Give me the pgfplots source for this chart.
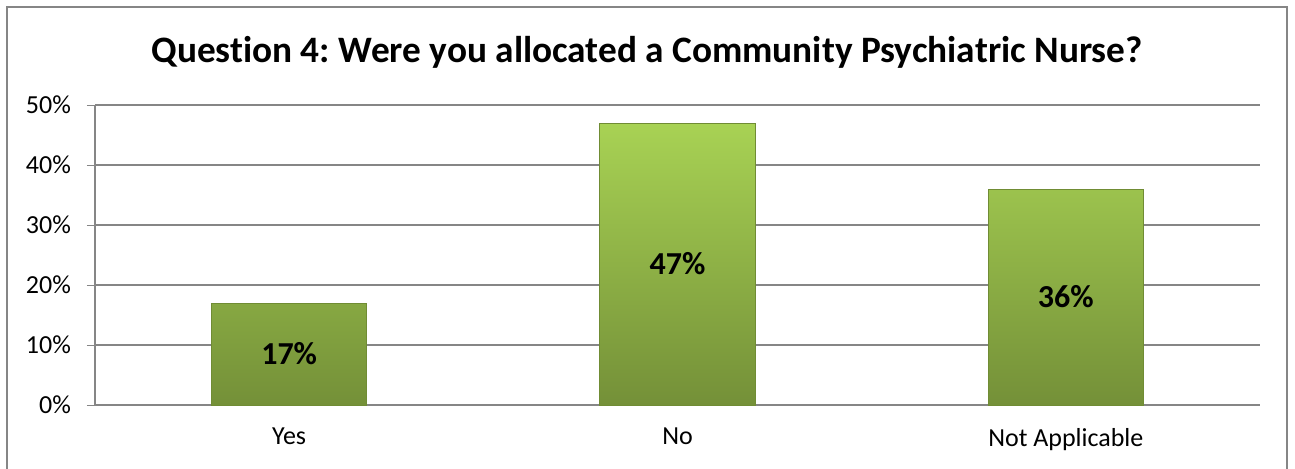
\documentclass[border=0pt]{standalone}
\usepackage{fontspec}
\setmainfont{Carlito}[Ligatures=NoCommon]
\usepackage{pgfplots}
\pgfplotsset{compat=1.18}
\definecolor{gridgray}{RGB}{134,134,134}
\definecolor{bordergray}{RGB}{134,134,134}
\definecolor{bartop}{RGB}{168,210,84}
\definecolor{barbot}{RGB}{116,144,56}
\definecolor{baredge}{RGB}{112,140,52}
\frenchspacing
\begin{document}
\begin{tikzpicture}
\path[use as bounding box] (0,0) rectangle (647.5pt,234pt);
\draw[bordergray, line width=1.2pt] (3.5pt,-3pt) -- (3.5pt,230.5pt) -- (643.5pt,230.5pt) -- (643.5pt,-3pt);
\node[font=\bfseries\fontsize{18.65}{21}\selectfont, anchor=base, inner sep=0pt] at (323.5pt,202.8pt) {Question 4: Were you allocated a Community Psychiatric Nurse?};
\begin{axis}[
  at={(47.5pt,31.5pt)}, anchor=south west,
  scale only axis, width=582.5pt, height=150pt,
  xmin=-0.5, xmax=2.5, ymin=0, ymax=50,
  ybar, bar width=0.4,
  xtick={0,1,2}, xticklabels={Yes,No,Not Applicable},
  x tick style={draw=none},
  extra x ticks={-0.5,0.5,1.5,2.5}, extra x tick labels={},
  extra x tick style={tick style={draw=gridgray}, major tick length=4pt, tick align=outside, grid=none},
  ytick={0,10,20,30,40,50},
  yticklabel={\pgfmathprintnumber{\tick}\%},
  /pgf/number format/assume math mode=true,
  ymajorgrids, major grid style={gridgray, line width=0.6pt},
  axis x line*=bottom, axis y line*=left,
  axis line style={gridgray, line width=0.6pt},
  y tick style={draw=gridgray}, tick align=outside, major tick length=4pt,
  tick label style={font=\fontsize{13}{15}\selectfont},
  xticklabel style={yshift=-4pt},
  yticklabel style={xshift=-4.5pt},
  visualization depends on={y \as \rawy},
  nodes near coords={\pgfmathprintnumber{\pgfplotspointmeta}\%},
  every node near coord/.append style={font=\bfseries\fontsize{16}{19}\selectfont, anchor=center, shift={(axis direction cs:0,-\rawy/2)}},
]
\addplot[draw=baredge, top color=bartop, bottom color=barbot] coordinates {(0,17) (1,47) (2,36)};
\end{axis}
\end{tikzpicture}
\end{document}
